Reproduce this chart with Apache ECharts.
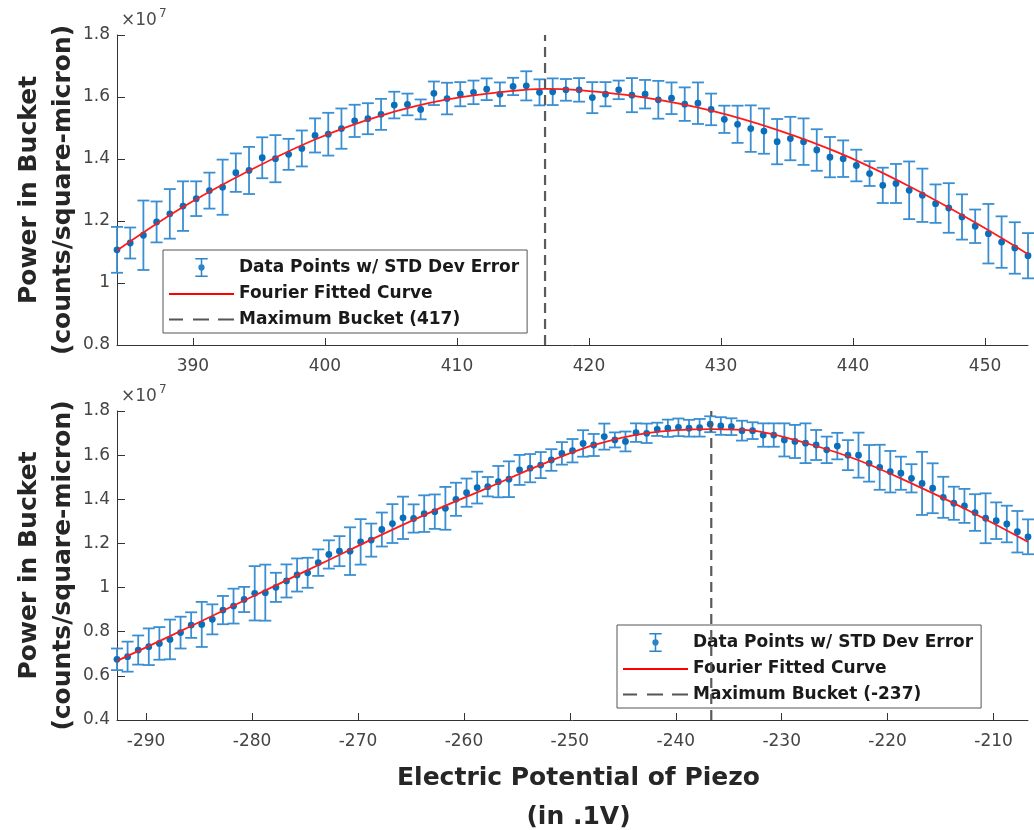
<!DOCTYPE html>
<html><head><meta charset="utf-8">
<script src="https://cdn.jsdelivr.net/npm/echarts@6/dist/echarts.min.js"></script>
<style>html,body{margin:0;padding:0;background:#fff}#c{width:1034px;height:830px}</style>
</head><body><div id="c"></div>
<script>
// ---------- data (power values in units of 10^7 counts/square-micron) ----------
const topXStart = 384.25;      // first sample position, samples every 1 unit
const topValues = [1.107,1.129,1.154,1.197,1.223,1.248,1.272,1.298,1.309,1.356,
  1.363,1.404,1.401,1.415,1.434,1.476,1.480,1.498,1.523,1.530,
  1.544,1.574,1.576,1.560,1.612,1.595,1.609,1.615,1.625,1.609,
  1.634,1.636,1.615,1.617,1.623,1.623,1.598,1.609,1.623,1.606,
  1.609,1.591,1.596,1.577,1.580,1.560,1.528,1.512,1.498,1.490,
  1.456,1.466,1.456,1.429,1.406,1.401,1.379,1.353,1.315,1.321,
  1.299,1.283,1.256,1.242,1.213,1.183,1.159,1.132,1.113,1.088];
const topErrors = [0.074,0.050,0.112,0.066,0.080,0.080,0.056,0.058,0.089,0.062,
  0.076,0.066,0.076,0.050,0.058,0.055,0.069,0.065,0.052,0.050,
  0.050,0.043,0.035,0.032,0.038,0.051,0.039,0.038,0.035,0.038,
  0.028,0.047,0.042,0.043,0.035,0.038,0.050,0.039,0.030,0.055,
  0.046,0.061,0.051,0.054,0.067,0.051,0.044,0.060,0.075,0.073,
  0.073,0.070,0.075,0.067,0.065,0.059,0.051,0.040,0.057,0.063,
  0.093,0.086,0.062,0.080,0.073,0.054,0.096,0.083,0.083,0.073];
const topFitX = [384.25,389.25,394.25,399.25,404.25,409.25,414.25,416.67,419.25,424.25,429.25,434.25,439.25,444.25,449.25,453.25];
const topFitY = [1.105,1.245,1.362,1.463,1.540,1.592,1.620,1.626,1.622,1.598,1.556,1.494,1.414,1.312,1.195,1.093];
const topMaxBucket = 416.67;
const topXTicks = [390,400,410,420,430,440,450];

const bottomXStart = -292.75;
const bottomValues = [0.675,0.687,0.717,0.732,0.747,0.765,0.796,0.830,0.833,0.856,
  0.898,0.916,0.946,0.974,0.977,1.001,1.030,1.057,1.067,1.113,
  1.150,1.165,1.165,1.207,1.215,1.263,1.290,1.316,1.313,1.335,
  1.344,1.359,1.400,1.430,1.453,1.457,1.480,1.491,1.533,1.541,
  1.555,1.578,1.608,1.620,1.653,1.646,1.684,1.669,1.662,1.702,
  1.699,1.717,1.722,1.726,1.722,1.724,1.740,1.732,1.729,1.711,
  1.711,1.691,1.691,1.669,1.662,1.654,1.646,1.624,1.641,1.600,
  1.600,1.563,1.545,1.525,1.518,1.495,1.472,1.450,1.409,1.382,
  1.370,1.340,1.314,1.303,1.288,1.253,1.230];
const bottomErrors = [0.049,0.068,0.066,0.083,0.074,0.090,0.072,0.058,0.102,0.068,
  0.064,0.079,0.057,0.123,0.127,0.066,0.075,0.075,0.068,0.060,
  0.064,0.068,0.108,0.103,0.075,0.077,0.088,0.096,0.064,0.083,
  0.078,0.097,0.075,0.064,0.072,0.044,0.071,0.081,0.068,0.064,
  0.059,0.049,0.051,0.053,0.060,0.050,0.059,0.034,0.045,0.042,
  0.044,0.030,0.039,0.040,0.038,0.040,0.036,0.040,0.038,0.045,
  0.038,0.053,0.053,0.075,0.075,0.090,0.068,0.060,0.060,0.068,
  0.102,0.083,0.102,0.094,0.075,0.064,0.143,0.113,0.093,0.075,
  0.077,0.083,0.113,0.083,0.083,0.094,0.079];
const bottomFitX = [-292.75,-287.75,-282.75,-277.75,-272.75,-267.75,-262.75,-257.75,-252.75,-247.75,-242.75,-236.65,-232.75,-227.75,-222.75,-217.75,-212.75,-206.75];
const bottomFitY = [0.668,0.780,0.895,1.010,1.125,1.240,1.350,1.452,1.556,1.645,1.700,1.718,1.711,1.655,1.577,1.472,1.358,1.207];
const bottomMaxBucket = -236.65;
const bottomXTicks = [-290,-280,-270,-260,-250,-240,-230,-220,-210];

const nameData = 'Data Points w/ STD Dev Error';
const nameFit = 'Fourier Fitted Curve';
const nameMaxTop = 'Maximum Bucket (417)';
const nameMaxBottom = 'Maximum Bucket (-237)';

// ---------- build ----------
const FONT = 'DejaVu Sans';
function samples(start, vals, errs) { return vals.map((v, i) => [start + i, v, errs[i]]); }
function pairs(xs, ys) { return xs.map((x, i) => [x, ys[i]]); }

function errRender(params, api) {
  const x = api.value(0), y = api.value(1), e = api.value(2);
  const c = api.coord([x, y]), hi = api.coord([x, y + e]), lo = api.coord([x, y - e]);
  const h = 6, bar = { stroke: '#3a8fd2', lineWidth: 1.8 };
  return { type: 'group', children: [
    { type: 'line', shape: { x1: c[0], y1: hi[1], x2: c[0], y2: lo[1] }, style: bar },
    { type: 'line', shape: { x1: c[0] - h, y1: hi[1], x2: c[0] + h, y2: hi[1] }, style: bar },
    { type: 'line', shape: { x1: c[0] - h, y1: lo[1], x2: c[0] + h, y2: lo[1] }, style: bar },
    { type: 'circle', shape: { cx: c[0], cy: c[1], r: 3.4 }, style: { fill: '#0a6fba' } }
  ]};
}

const axisLineStyle = { color: '#333333', width: 1 };
function xAxisCfg(gi, min, max, ticks, extra) {
  return Object.assign({
    type: 'value', gridIndex: gi, min: min, max: max,
    axisLine: { show: true, onZero: false, lineStyle: axisLineStyle },
    axisTick: { show: true, inside: true, length: 7, lineStyle: axisLineStyle, customValues: ticks },
    axisLabel: { margin: 13, fontSize: 17, fontFamily: FONT, color: '#444444', customValues: ticks },
    splitLine: { show: false }
  }, extra || {});
}
function yAxisCfg(gi, min, max) {
  return {
    type: 'value', gridIndex: gi, min: min, max: max, interval: 0.2,
    name: 'Power in Bucket\n(counts/square-micron)', nameLocation: 'middle', nameRotate: 90, nameGap: 37,
    nameMoveOverlap: false,
    nameTextStyle: { fontFamily: FONT, fontWeight: 'bold', fontSize: 25, color: '#262626', lineHeight: 34 },
    axisLine: { show: true, onZero: false, lineStyle: axisLineStyle },
    axisTick: { show: true, inside: true, length: 8, lineStyle: axisLineStyle },
    axisLabel: { margin: 7, fontSize: 17, fontFamily: FONT, color: '#444444' },
    splitLine: { show: false }
  };
}

const errIcon = 'path://M0,0H13V1.6H0Z M5.7,1.6H7.3V6.8H5.7Z M5.7,13.2H7.3V18.4H5.7Z M0,18.4H13V20H0Z M3.2,10A3.3,3.3 0 1,1 9.8,10A3.3,3.3 0 1,1 3.2,10Z';
const lineIcon = 'path://M0,0H65V1.8H0Z';
const dashIcon = 'path://M0,0H14V2H0Z M24,0H40V2H24Z M49,0H65V2H49Z';
function legendCfg(left, top, maxName) {
  return {
    left: left, top: top, orient: 'vertical', selectedMode: false,
    itemWidth: 65, itemHeight: 19, itemGap: 8.5, padding: [8, 8, 5, 6],
    borderColor: '#555555', borderWidth: 1, backgroundColor: '#ffffff',
    itemStyle: { borderWidth: 0 },
    textStyle: { fontFamily: FONT, fontWeight: 'bold', fontSize: 17, color: '#1a1a1a' },
    data: [ { name: nameData, icon: errIcon }, { name: nameFit, icon: lineIcon }, { name: maxName, icon: dashIcon } ]
  };
}
function seriesSet(gi, data, fit, maxX, maxName, ymin, ymax) {
  return [
    { type: 'custom', name: nameData, xAxisIndex: gi, yAxisIndex: gi, renderItem: errRender,
      data: data, encode: { x: 0, y: 1 }, itemStyle: { color: '#2a84c9' }, z: 2, silent: true },
    { type: 'line', name: nameFit, xAxisIndex: gi, yAxisIndex: gi, data: fit, smooth: 0.35,
      symbol: 'none', color: '#ff0000', itemStyle: { color: '#ff0000' },
      lineStyle: { color: '#ff1a1a', width: 1.8 }, z: 3, silent: true },
    { type: 'line', name: maxName, xAxisIndex: gi, yAxisIndex: gi, data: [[maxX, ymin], [maxX, ymax]],
      symbol: 'none', color: '#555555', itemStyle: { color: '#555555' },
      lineStyle: { color: '#5a5a5a', width: 2.2, type: [10, 6] }, z: 4, silent: true }
  ];
}

const chart = echarts.init(document.getElementById('c'), null, { renderer: 'canvas' });
chart.setOption({
  animation: false,
  backgroundColor: '#ffffff',
  textStyle: { fontFamily: FONT },
  grid: [
    { left: 117, top: 35, width: 911, height: 310, outerBoundsMode: 'none', containLabel: false },
    { left: 117, top: 411, width: 911, height: 309, outerBoundsMode: 'none', containLabel: false }
  ],
  xAxis: [
    xAxisCfg(0, topXStart, topXStart + topValues.length - 1, topXTicks),
    xAxisCfg(1, bottomXStart, bottomXStart + bottomValues.length - 1, bottomXTicks, {
      name: 'Electric Potential of Piezo\n(in .1V)', nameLocation: 'middle', nameGap: 39,
      nameMoveOverlap: false,
      nameTextStyle: { fontFamily: FONT, fontWeight: 'bold', fontSize: 25, color: '#262626', lineHeight: 39, padding: [0, 0, 0, 12] }
    })
  ],
  yAxis: [ yAxisCfg(0, 0.8, 1.8), yAxisCfg(1, 0.4, 1.8) ],
  legend: [ legendCfg(163, 250, nameMaxTop), legendCfg(617, 625, nameMaxBottom) ],
  graphic: [
    { type: 'text', left: 121, top: 12, style: { text: '×10', fontSize: 17, fontFamily: FONT, fill: '#4d4d4d' } },
    { type: 'text', left: 159, top: 8, style: { text: '7', fontSize: 12, fontFamily: FONT, fill: '#4d4d4d' } },
    { type: 'text', left: 121, top: 388, style: { text: '×10', fontSize: 17, fontFamily: FONT, fill: '#4d4d4d' } },
    { type: 'text', left: 159, top: 384, style: { text: '7', fontSize: 12, fontFamily: FONT, fill: '#4d4d4d' } }
  ],
  series: [].concat(
    seriesSet(0, samples(topXStart, topValues, topErrors), pairs(topFitX, topFitY), topMaxBucket, nameMaxTop, 0.8, 1.8),
    seriesSet(1, samples(bottomXStart, bottomValues, bottomErrors), pairs(bottomFitX, bottomFitY), bottomMaxBucket, nameMaxBottom, 0.4, 1.8)
  )
});
</script></body></html>
